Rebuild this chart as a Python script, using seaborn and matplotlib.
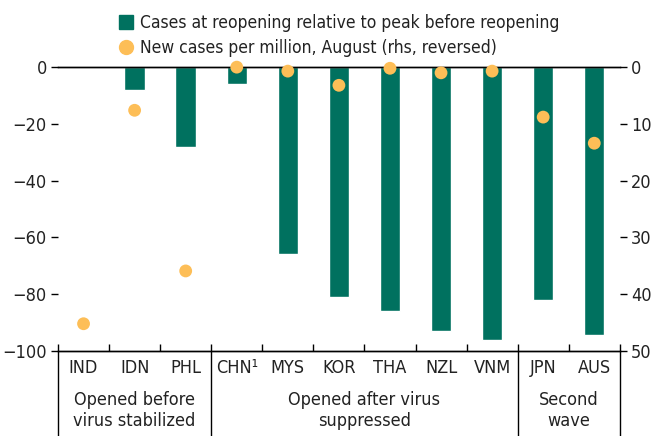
import numpy as np
import pandas as pd
import matplotlib
matplotlib.use("Agg")
import matplotlib.pyplot as plt
import matplotlib.transforms as mtransforms
from matplotlib.lines import Line2D
import seaborn as sns

# Data
countries = ["IND", "IDN", "PHL", "CHN¹", "MYS", "KOR", "THA", "NZL", "VNM", "JPN", "AUS"]
reopen_vs_peak = [0, -8, -28, -6, -66, -81, -86, -93, -96, -82, -94.5]
new_cases_aug = [45.2, 7.6, 35.9, 0.0, 0.7, 3.2, 0.2, 1.0, 0.7, 8.8, 13.4]
groups = ["Opened before\nvirus stabilized", "Opened after virus\nsuppressed", "Second\nwave"]
group_bounds = [(-0.5, 2.5), (2.5, 8.5), (8.5, 10.5)]

green = "#00715F"
orange = "#FDBE57"

sns.set_theme(style="white")
plt.rcParams["font.family"] = ["Liberation Sans Narrow", "DejaVu Sans"]
plt.rcParams["font.stretch"] = "condensed"
plt.rcParams["font.size"] = 13

df = pd.DataFrame({"country": countries, "reopen": reopen_vs_peak, "cases": new_cases_aug})

fig = plt.figure(figsize=(6.54, 4.36), dpi=100)
ax = fig.add_axes([0.0887, 0.195, 0.859, 0.651])

sns.barplot(data=df, x="country", y="reopen", order=countries, color=green,
            width=0.4, saturation=1, ax=ax)
ax.set_xlim(-0.5, 10.5)
ax.set_ylim(-100, 0)
ax.set_yticks([0, -20, -40, -60, -80, -100])
ax.set_xlabel("")
ax.set_ylabel("")

ax2 = ax.twinx()
sns.scatterplot(x=np.arange(len(countries)), y=df["cases"], color=orange, s=85,
                edgecolor="none", ax=ax2, zorder=5, clip_on=False)
ax2.set_ylim(50, 0)
ax2.set_yticks([0, 10, 20, 30, 40, 50])
ax2.set_ylabel("")
ax2.set_xlim(-0.5, 10.5)

for a in (ax, ax2):
    for s in ["left", "right"]:
        a.spines[s].set_visible(False)
    a.spines["top"].set_color("black")
    a.spines["bottom"].set_color("black")
    a.spines["top"].set_linewidth(1)
    a.spines["bottom"].set_linewidth(1)

ax.tick_params(axis="y", which="both", left=True, length=5, width=1, color="black",
               labelsize=13, pad=3, labelcolor="#222222")
ax2.tick_params(axis="y", which="both", right=True, length=5, width=1, color="black",
                labelsize=13, pad=3, labelcolor="#222222")
ax.tick_params(axis="x", which="major", length=0, labelsize=13, pad=6, labelcolor="#222222")
ax.set_xticks(np.arange(-0.5, 11, 1), minor=True)
ax.tick_params(axis="x", which="minor", bottom=True, direction="in", length=5, width=1, color="black")
ax2.tick_params(axis="x", which="both", bottom=False, top=False)

# group separators below the axis
trans = mtransforms.blended_transform_factory(ax.transData, ax.transAxes)
for xb in [-0.5, 2.5, 8.5, 10.5]:
    ax.add_line(Line2D([xb, xb], [0, -0.32], transform=trans, color="black",
                       lw=1, clip_on=False))
for (x0, x1), lab in zip(group_bounds, groups):
    ax.text((x0 + x1) / 2, -0.14, lab, transform=trans, ha="center", va="top",
            fontsize=13, color="#222222", linespacing=1.25)

handles = [
    Line2D([], [], marker="s", color=green, linestyle="none", markersize=10),
    Line2D([], [], marker="o", color=orange, linestyle="none", markersize=10),
]
labels = ["Cases at reopening relative to peak before reopening",
          "New cases per million, August (rhs, reversed)"]
fig.legend(handles, labels, loc="upper left", bbox_to_anchor=(0.158, 1.0), frameon=False,
           fontsize=12.5, handletextpad=0.3, labelspacing=0.4, borderpad=0.3,
           handlelength=1.0, labelcolor="#222222")

fig.savefig("out.png", dpi=100)
